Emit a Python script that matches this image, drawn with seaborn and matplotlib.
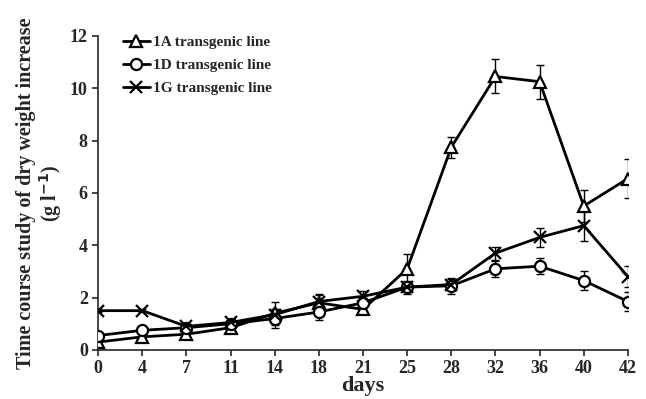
import seaborn as sns
import matplotlib.pyplot as plt
import pandas as pd
import numpy as np

sns.set_style("ticks")
plt.rcParams['font.family'] = ['Liberation Serif', 'DejaVu Serif']
plt.rcParams['font.weight'] = 'bold'

days = [0, 4, 7, 11, 14, 18, 21, 25, 28, 32, 36, 40, 42]

line_1a = [0.3, 0.5, 0.6, 0.85, 1.4, 1.8, 1.55, 3.1, 7.75, 10.45, 10.25, 5.5, 6.55]
err_1a = [0.1, 0.1, 0.1, 0.15, 0.45, 0.3, 0.15, 0.55, 0.4, 0.65, 0.65, 0.6, 0.75]
line_1d = [0.55, 0.75, 0.85, 1.0, 1.2, 1.45, 1.8, 2.4, 2.45, 3.1, 3.2, 2.65, 1.85]
err_1d = [0.1, 0.1, 0.1, 0.2, 0.35, 0.3, 0.2, 0.25, 0.3, 0.3, 0.3, 0.35, 0.35]
line_1g = [1.5, 1.5, 0.9, 1.05, 1.35, 1.85, 2.05, 2.4, 2.5, 3.7, 4.3, 4.75, 2.8]
err_1g = [0.05, 0.05, 0.1, 0.15, 0.2, 0.3, 0.2, 0.2, 0.2, 0.25, 0.35, 0.6, 0.4]

series = [
    ('1A transgenic line', line_1a, err_1a, '^'),
    ('1D transgenic line', line_1d, err_1d, 'o'),
    ('1G transgenic line', line_1g, err_1g, 'x'),
]

pos = np.arange(len(days))

fig, ax = plt.subplots(figsize=(6.46, 3.99), dpi=100)
fig.subplots_adjust(left=0.152, right=0.972, top=0.91, bottom=0.123)

for name, vals, errs, mk in series:
    df = pd.DataFrame({'pos': pos, 'val': vals})
    ax.errorbar(pos, vals, yerr=errs, fmt='none', ecolor='black',
                elinewidth=1.0, capsize=3, capthick=1.0, zorder=2)
    sns.lineplot(data=df, x='pos', y='val', ax=ax, color='black', lw=2,
                 marker=mk, markersize=8, markerfacecolor='white' if mk != 'x' else 'black',
                 markeredgecolor='black', markeredgewidth=1.6, label=name, zorder=3)

ax.set_xlim(0, len(days) - 1)
ax.set_ylim(0, 12)
ax.set_yticks([0, 2, 4, 6, 8, 10, 12])
ax.set_xticks(pos)
ax.set_xticklabels([str(d) for d in days])
ax.tick_params(labelsize=13, width=1.2, length=4)
for lab in ax.get_xticklabels() + ax.get_yticklabels():
    lab.set_fontweight('bold')

ax.set_xlabel('days', fontsize=16, fontweight='bold', labelpad=-1)
ax.set_ylabel('Time course study of dry weight increase\n(g l$^{\\mathbf{-1}}$)',
              fontsize=14.5, fontweight='bold', linespacing=1.05, labelpad=4)

sns.despine(ax=ax)
ax.spines['left'].set_linewidth(1.2)
ax.spines['bottom'].set_linewidth(1.2)

leg = ax.legend(loc='upper left', bbox_to_anchor=(0.02, 1.045), frameon=False,
                fontsize=11, handlelength=1.8, handletextpad=0.2, labelspacing=0.6)
for t in leg.get_texts():
    t.set_fontweight('bold')

plt.savefig('out.png', dpi=100)
